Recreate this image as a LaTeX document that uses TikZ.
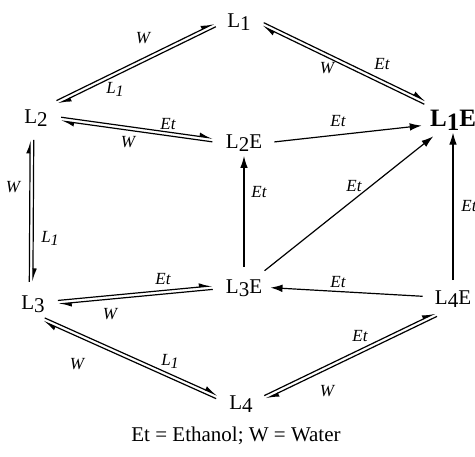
\documentclass[tikz,border=0pt]{standalone}
\usepackage{fontspec}
\setmainfont{Liberation Serif}
\usetikzlibrary{arrows.meta,calc}

\newcommand{\Ls}[1]{L\raisebox{-0.35ex}{#1}}
\newcommand{\Li}{\textit{L}\raisebox{-0.4ex}{\textit{\footnotesize 1}}}
\newcommand{\eqarr}[2]{%
  \coordinate (s) at ($(#1)!5.5pt!(#2)$);
  \coordinate (e) at ($(#2)!5.5pt!(#1)$);
  \draw[eqline] ($(s)!0.9pt!90:(e)$) -- ($(e)!0.9pt!-90:(s)$);
  \draw[eqline] ($(e)!0.9pt!90:(s)$) -- ($(s)!0.9pt!-90:(e)$);
}

\begin{document}
\begin{tikzpicture}[
  x=0.5pt,y=-0.5pt,
  every node/.style={font=\fontsize{10.5}{12}\selectfont,inner sep=1pt},
  lbl/.style={font=\fontsize{8.5}{10}\selectfont\itshape,inner sep=0pt},
  bigbox/.style={font=\fontsize{12.5}{14}\selectfont\bfseries},
  eqline/.style={line width=0.6pt,-{Latex[left,length=5.5pt,width=4pt]}},
  arr/.style={line width=0.6pt,-{Latex[length=6pt,width=3.8pt]},shorten <=5pt,shorten >=3pt}
]
\useasboundingbox (0,0) rectangle (475,456);
\node (L1) at (239,22) {\Ls{1}};
\node (L2) at (36,118) {\Ls{2}};
\node (L2E) at (244,143) {\Ls{2}E};
\node[bigbox] (L1E) at (453,120) {\Ls{1}E};
\node (L3) at (33,304) {\Ls{3}};
\node (L3E) at (244,288) {\Ls{3}E};
\node (L4E) at (453,299) {\Ls{4}E};
\node (L4) at (241,404) {\Ls{4}};

\eqarr{L2.44}{L1.173}
\eqarr{L1.10}{L1E.145}
\eqarr{L2.2}{L2E.176}
\eqarr{L2.-110}{L3.100}
\eqarr{L3.3}{L3E.176}
\eqarr{L3.-85}{L4.170}
\eqarr{L4.8}{L4E.-122}
\draw[arr,shorten >=1pt] (L3E) -- (L2E);
\draw[arr] (L3E.41) -- (L1E.-140);
\draw[arr] (L2E.0) -- (L1E.-169);
\draw[arr,shorten <=4pt,shorten >=0pt] (L4E) -- (L1E);
\draw[arr] (L4E.174) -- (L3E.2);

\node[lbl] (w1) at (143,38) {W};
\node[lbl] (l1a) at (115,89) {\Li};
\node[lbl] (w2) at (327,68) {W};
\node[lbl] (et2) at (382,64) {Et};
\node[lbl] (et3) at (168,124) {Et};
\node[lbl] (w3) at (128,142) {W};
\node[lbl] (w4) at (13,187) {W};
\node[lbl] (l1b) at (50,238) {\Li};
\node[lbl] (et5) at (259,192) {Et};
\node[lbl] (et6) at (354,186) {Et};
\node[lbl] (et7) at (338,121) {Et};
\node[lbl] (et8) at (469,206) {Et};
\node[lbl] (et9) at (338,282) {Et};
\node[lbl] (et10) at (163,279) {Et};
\node[lbl] (w10) at (110,314) {W};
\node[lbl] (w11) at (77,364) {W};
\node[lbl] (l1c) at (170,361) {\Li};
\node[lbl] (et12) at (360,336) {Et};
\node[lbl] (w12) at (327,391) {W};
\node (key) at (236,436) {Et = Ethanol; W = Water};
\end{tikzpicture}
\end{document}
